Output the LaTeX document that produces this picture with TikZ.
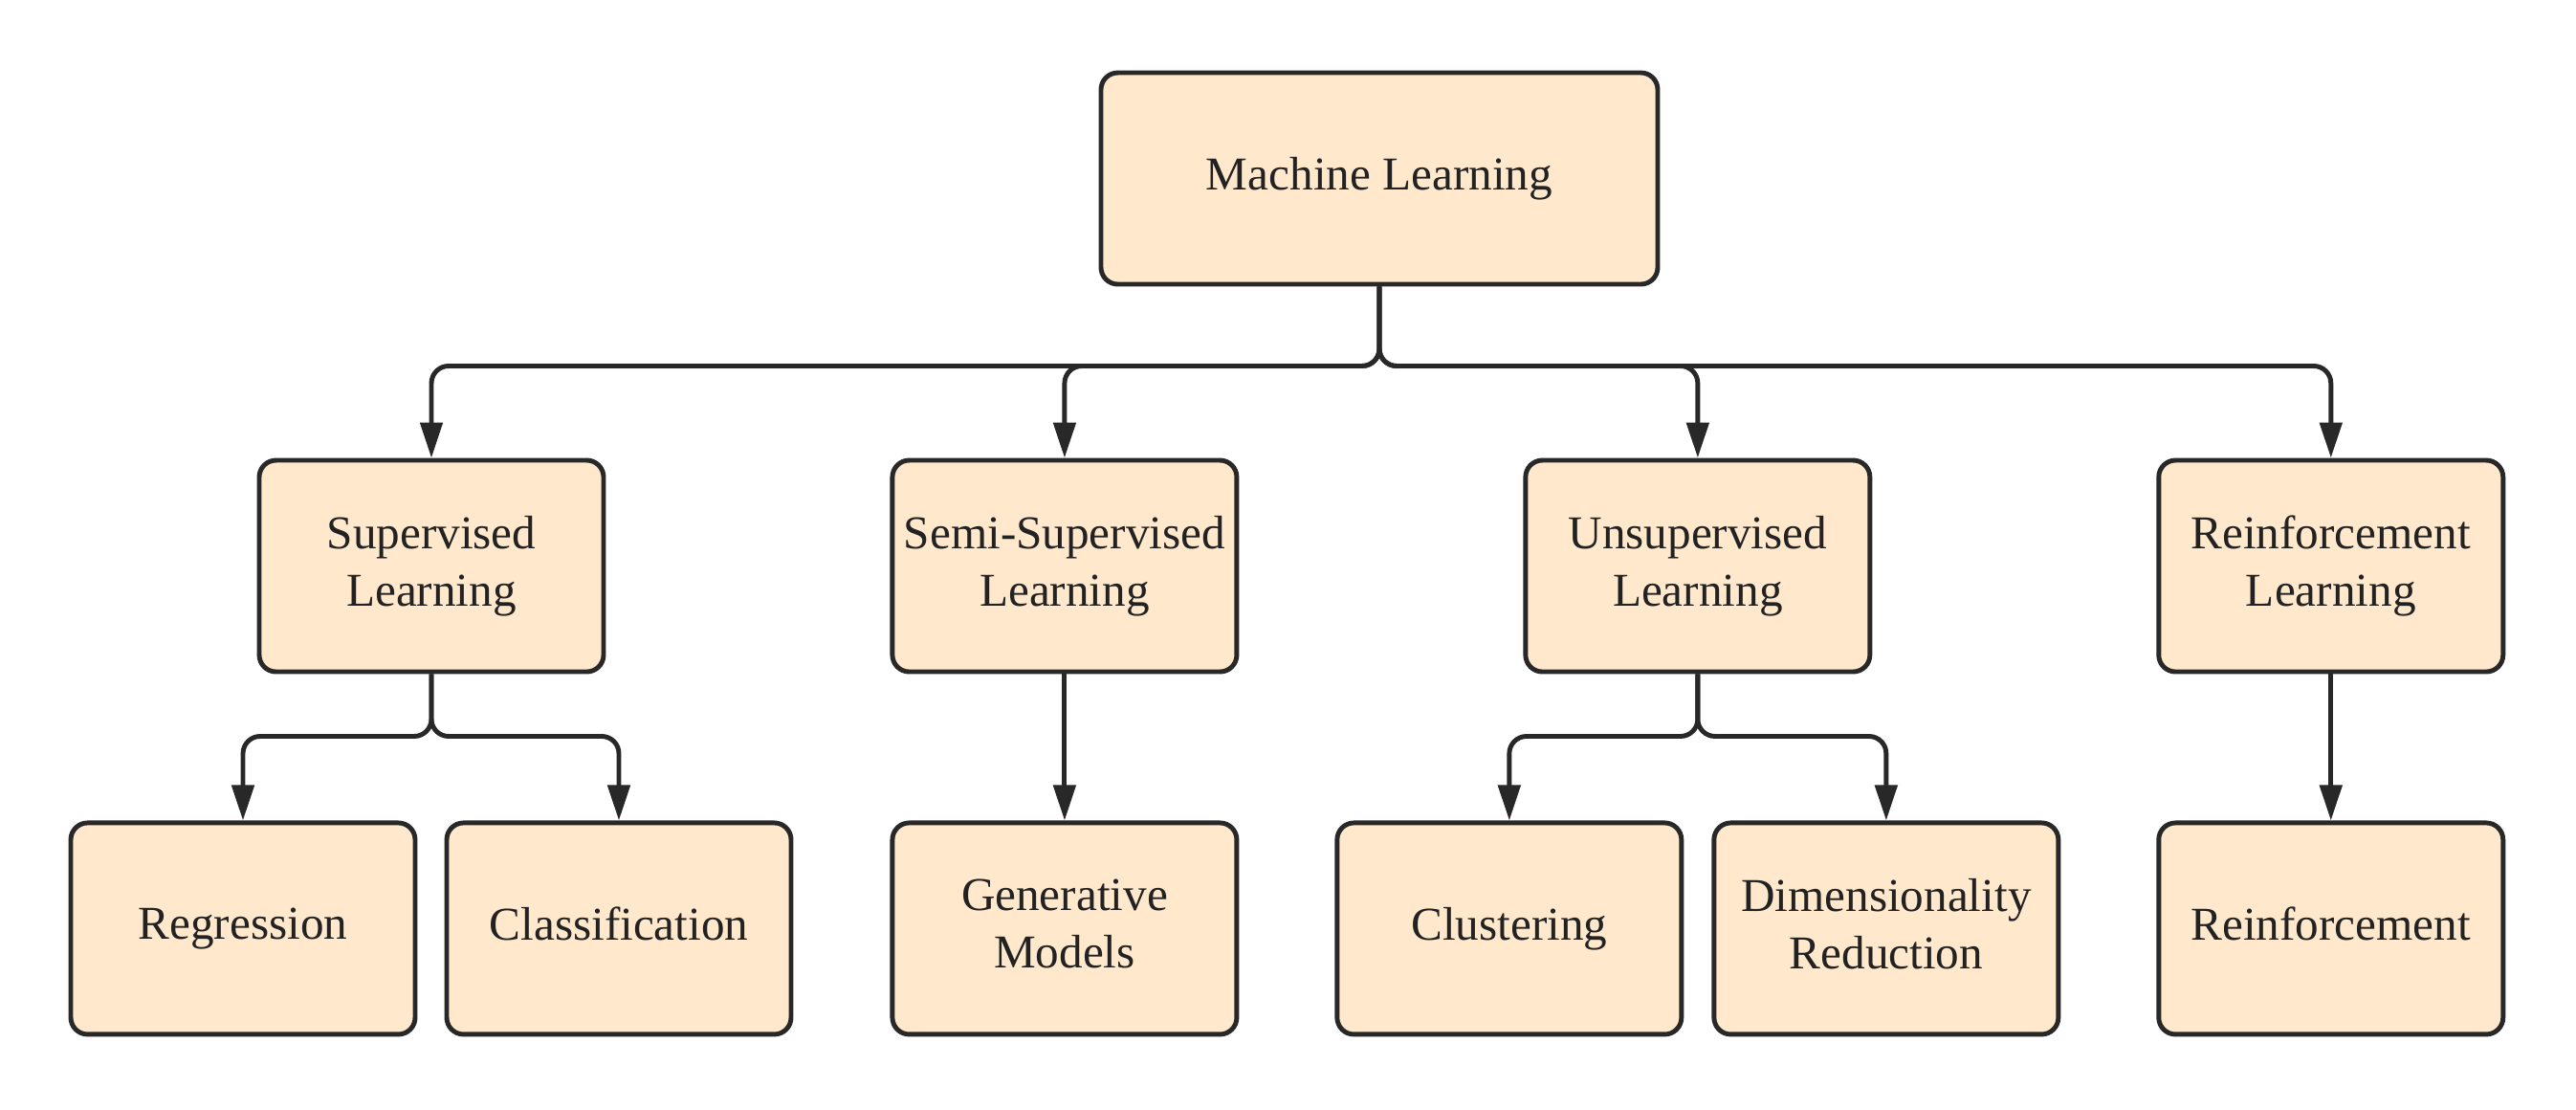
\documentclass[tikz,border=0pt]{standalone}
\usepackage{fontspec}
\setmainfont{Liberation Serif}
\usepackage{tikz}
\usetikzlibrary{arrows.meta, positioning}
\definecolor{boxfill}{RGB}{255,232,204}
\definecolor{linecolor}{RGB}{40,40,40}
\definecolor{textcolor}{RGB}{34,34,34}

\begin{document}
\begin{tikzpicture}[
  mlbox/.style={draw=linecolor, line width=1.4pt, rounded corners=5pt,
                fill=boxfill, text=textcolor, align=center,
                minimum width=3.6cm, minimum height=2.21cm,
                font=\fontsize{14}{17}\selectfont,
                execute at end node=\vphantom{g}},
  rootbox/.style={mlbox, minimum width=5.82cm},
  arrow/.style={-{Triangle[length=0.37cm, width=0.23cm]}, line width=1.4pt,
                color=linecolor, rounded corners=0.18cm},
]
\useasboundingbox (0,0) rectangle (26.93,-11.59);

\node[rootbox] (ml) at (14.42,-1.865) {Machine Learning};

% second level
\node[mlbox] (sup) at (4.51,-5.915) {Supervised\\Learning};
\node[mlbox, right=2.97cm of sup] (semi) {Semi-Supervised\\Learning};
\node[mlbox, right=2.97cm of semi] (unsup) {Unsupervised\\Learning};
\node[mlbox, right=2.97cm of unsup] (reinf) {Reinforcement\\Learning};

\draw[arrow] (ml.south) -- ++(0,-0.83) -| (sup.north);
\draw[arrow] (ml.south) -- ++(0,-0.83) -| (semi.north);
\draw[arrow] (ml.south) -- ++(0,-0.83) -| (unsup.north);
\draw[arrow] (ml.south) -- ++(0,-0.83) -| (reinf.north);

% third level
\node[mlbox, below=1.53cm of sup, xshift=-1.97cm] (reg) {Regression};
\node[mlbox, below=1.53cm of sup, xshift=1.96cm] (clas) {Classification};
\node[mlbox, below=1.53cm of semi] (gen) {Generative\\Models};
\node[mlbox, below=1.53cm of unsup, xshift=-1.97cm] (clus) {Clustering};
\node[mlbox, below=1.53cm of unsup, xshift=1.97cm] (dimred) {Dimensionality\\Reduction};
\node[mlbox, below=1.53cm of reinf] (reinforce) {Reinforcement};

\draw[arrow] (sup.south) -- ++(0,-0.65) -| (reg.north);
\draw[arrow] (sup.south) -- ++(0,-0.65) -| (clas.north);
\draw[arrow] (semi) -- (gen);
\draw[arrow] (unsup.south) -- ++(0,-0.65) -| (clus.north);
\draw[arrow] (unsup.south) -- ++(0,-0.65) -| (dimred.north);
\draw[arrow] (reinf) -- (reinforce);
\end{tikzpicture}
\end{document}
